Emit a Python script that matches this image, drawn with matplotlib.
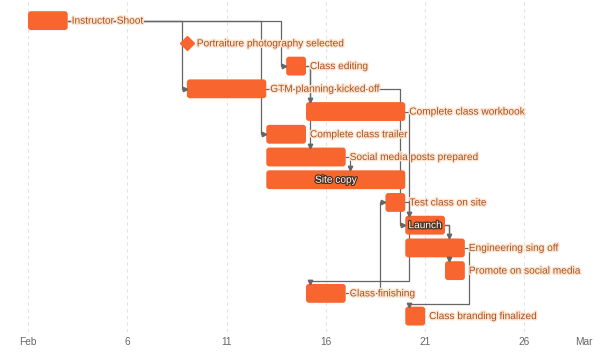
import matplotlib
matplotlib.use('Agg')
import matplotlib.pyplot as plt
import matplotlib.patheffects as pe
from matplotlib.patches import FancyBboxPatch

# days counted from Feb 1
tasks = ['Instructor Shoot', 'Portraiture photography selected', 'Class editing',
         'GTM planning kicked off', 'Complete class workbook', 'Complete class trailer',
         'Social media posts prepared', 'Site copy', 'Test class on site', 'Launch',
         'Engineering sing off', 'Promote on social media', 'Class finishing',
         'Class branding finalized']
starts = [0, 8, 13, 8, 14, 12, 12, 12, 18, 19, 19, 21, 14, 19]
ends = [2, 8, 14, 12, 19, 14, 16, 19, 19, 21, 22, 22, 16, 20]
milestones = ['Portraiture photography selected']
inside_labels = ['Site copy', 'Launch']

dependencies = [
    ('Instructor Shoot', 'GTM planning kicked off'),
    ('Instructor Shoot', 'Complete class trailer'),
    ('Instructor Shoot', 'Class editing'),
    ('Class editing', 'Complete class workbook'),
    ('Class editing', 'Social media posts prepared'),
    ('GTM planning kicked off', 'Launch'),
    ('Complete class workbook', 'Class finishing'),
    ('Social media posts prepared', 'Site copy'),
    ('Test class on site', 'Launch'),
    ('Class finishing', 'Test class on site'),
    ('Launch', 'Engineering sing off'),
    ('Launch', 'Promote on social media'),
    ('Engineering sing off', 'Class branding finalized'),
]

tick_days = [0, 5, 10, 15, 20, 25, 28]
tick_labels = ['Feb', '6', '11', '16', '21', '26', 'Mar']

bar_color = '#f9652f'
line_color = '#666666'
label_color = '#a9501f'
bar_h = 0.83

plt.rcParams['font.family'] = ['Liberation Sans', 'DejaVu Sans']

fig = plt.figure(figsize=(6.04, 3.59), dpi=100)
ax = fig.add_axes([28 / 604, 27 / 359, 556 / 604, 330 / 359])
ax.set_xlim(0, 28)
ax.set_ylim(13.70, -0.82)

for d in tick_days:
    ax.axvline(d, color='#e3e3e3', lw=0.8, ls=(0, (3, 3)), zorder=0)

# connectors
for src, tgt in dependencies:
    i, j = tasks.index(src), tasks.index(tgt)
    s_end = ends[i]
    t_start, t_end = starts[j], ends[j]
    if t_start > s_end:
        xv = t_start - 0.25
        xs = [s_end, xv, xv, t_start]
        ys = [i, i, j, j]
        ax.plot(xs, ys, color=line_color, lw=0.9, zorder=1)
        ax.plot(t_start - 0.1, j, marker='>', ms=3.2, color=line_color, zorder=3)
    else:
        xv = s_end + 0.2
        top = j - bar_h / 2
        if t_start < xv < t_end:
            xs = [s_end, xv, xv]
            ys = [i, i, top]
            ax_x = xv
        else:
            xs = [s_end, xv, xv, t_start + 0.2, t_start + 0.2]
            ys = [i, i, top - 0.12, top - 0.12, top]
            ax_x = t_start + 0.2
        ax.plot(xs, ys, color=line_color, lw=0.9, zorder=1)
        ax.plot(ax_x, top - 0.09, marker='v', ms=3.2, color=line_color, zorder=3)

halo = [pe.withStroke(linewidth=2, foreground='#fde6d3')]
dark_halo = [pe.withStroke(linewidth=1.8, foreground='#4a3020')]

for row, (name, s, e) in enumerate(zip(tasks, starts, ends)):
    if name in milestones:
        ax.plot(s, row, marker='D', ms=7.5, color=bar_color, zorder=2)
        ax.text(s + 0.5, row, name, color=label_color, fontsize=7.3,
                va='center', ha='left', path_effects=halo, zorder=4)
        continue
    box = FancyBboxPatch((s, row - bar_h / 2), e - s, bar_h,
                         boxstyle='round,pad=0,rounding_size=0.15',
                         mutation_aspect=19.86 / 22.77,
                         facecolor=bar_color, edgecolor='none', zorder=2)
    ax.add_patch(box)
    if name in inside_labels:
        ax.text((s + e) / 2, row, name, color='white', fontsize=7.3,
                va='center', ha='center', path_effects=dark_halo, zorder=4)
    else:
        ax.text(e + 0.2, row, name, color=label_color, fontsize=7.3,
                va='center', ha='left', path_effects=halo, zorder=4)

ax.set_xticks(tick_days)
ax.set_xticklabels(tick_labels)
ax.set_yticks([])
ax.tick_params(axis='x', length=0, pad=3.5, labelsize=7.3, labelcolor='#666666')
for sp in ax.spines.values():
    sp.set_visible(False)

fig.savefig('out.png', dpi=100)
